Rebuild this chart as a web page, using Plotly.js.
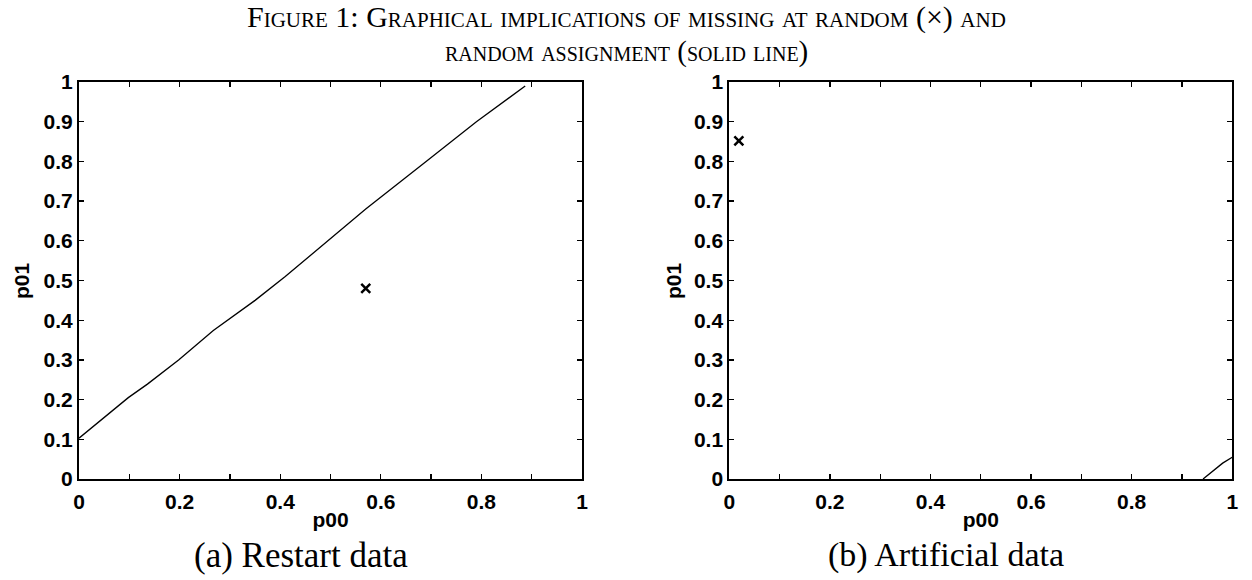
<!DOCTYPE html>
<html>
<head>
<meta charset="utf-8">
<script src="https://cdn.plot.ly/plotly-3.0.1.min.js"></script>
<style>html,body{margin:0;padding:0;background:#fff;} #chart{width:1252px;height:580px;}</style>
</head>
<body>
<div id="chart"></div>
<script>
// Panel (a) Restart data: random assignment line and MAR point
const restartLineP00 = [0.0, 0.05, 0.098, 0.136, 0.198, 0.267, 0.35, 0.41, 0.49, 0.57, 0.69, 0.79, 0.887];
const restartLineP01 = [0.103, 0.155, 0.205, 0.239, 0.30, 0.374, 0.45, 0.51, 0.595, 0.68, 0.80, 0.90, 0.99];
const restartMarP00 = [0.57];
const restartMarP01 = [0.48];

// Panel (b) Artificial data
const artificialLineP00 = [0.942, 0.981, 1.0];
const artificialLineP01 = [0.0, 0.040, 0.055];
const artificialMarP00 = [0.019];
const artificialMarP01 = [0.852];

// Ticks
const tickVals = [0, 0.1, 0.2, 0.3, 0.4, 0.5, 0.6, 0.7, 0.8, 0.9, 1];
const yTickText = ["0", "0.1", "0.2", "0.3", "0.4", "0.5", "0.6", "0.7", "0.8", "0.9", "1"];
const xTickText = ["0", "", "0.2", "", "0.4", "", "0.6", "", "0.8", "", "1"];

const titleLines = ["Figure 1: Graphical implications of missing at random (×) and", "random assignment (solid line)"];
const subCaptions = ["(a) Restart data", "(b) Artificial data"];
const xLabel = "p00";
const yLabel = "p01";

const lineStyle = {color: "#000", width: 1.3};
const markStyle = {symbol: "x-thin-open", size: 9, color: "#000", line: {color: "#000", width: 2.5}};

const traces = [
  {x: restartLineP00, y: restartLineP01, mode: "lines", line: lineStyle, xaxis: "x", yaxis: "y", hoverinfo: "skip"},
  {x: restartMarP00, y: restartMarP01, mode: "markers", marker: markStyle, xaxis: "x", yaxis: "y"},
  {x: artificialLineP00, y: artificialLineP01, mode: "lines", line: lineStyle, xaxis: "x2", yaxis: "y2", hoverinfo: "skip"},
  {x: artificialMarP00, y: artificialMarP01, mode: "markers", marker: markStyle, xaxis: "x2", yaxis: "y2"}
];

const tickFont = {family: "Liberation Sans", size: 21, color: "#000", weight: "bold"};
const axTitleFont = {family: "Liberation Sans", size: 21, color: "#000", weight: "bold"};
function xAx(domain, anchor) {
  return {
    domain: domain, anchor: anchor, range: [0, 1], tickmode: "array", tickvals: tickVals, ticktext: xTickText,
    ticks: "inside", ticklen: 5, tickwidth: 1.3, tickcolor: "#000", ticklabelstandoff: 3,
    showline: true, linecolor: "#000", linewidth: 2, mirror: "ticks",
    showgrid: false, zeroline: false, tickfont: tickFont, automargin: false,
    title: {text: xLabel, font: axTitleFont, standoff: 0}
  };
}
function yAx(domain, anchor) {
  return {
    domain: domain, anchor: anchor, range: [0, 1], tickmode: "array", tickvals: tickVals, ticktext: yTickText,
    ticks: "inside", ticklen: 5, tickwidth: 1.3, tickcolor: "#000",
    showline: true, linecolor: "#000", linewidth: 2, mirror: "ticks",
    showgrid: false, zeroline: false, tickfont: tickFont, automargin: false
  };
}

const serif = "Liberation Serif";
const yDom = [0.1741, 0.8586];
const layout = {
  width: 1252, height: 580,
  margin: {l: 0, r: 0, t: 0, b: 0},
  paper_bgcolor: "#fff", plot_bgcolor: "#fff",
  showlegend: false,
  xaxis: xAx([0.0631, 0.4649], "y"),
  yaxis: yAx(yDom, "x"),
  xaxis2: xAx([0.5825, 0.9842], "y2"),
  yaxis2: yAx(yDom, "x2"),
  annotations: [
    {text: titleLines[0], xref: "paper", yref: "paper", x: 0.5, y: 1 - 17 / 580, xanchor: "center", yanchor: "middle", showarrow: false,
     font: {family: serif, size: 30, color: "#000", variant: "small-caps"}},
    {text: titleLines[1], xref: "paper", yref: "paper", x: 0.5, y: 1 - 51 / 580, xanchor: "center", yanchor: "middle", showarrow: false,
     font: {family: serif, size: 29, color: "#000", variant: "small-caps"}},
    {text: subCaptions[0], xref: "paper", yref: "paper", x: 301 / 1252, y: 1 - 555 / 580, xanchor: "center", yanchor: "middle", showarrow: false,
     font: {family: serif, size: 35, color: "#000"}},
    {text: subCaptions[1], xref: "paper", yref: "paper", x: 946 / 1252, y: 1 - 555 / 580, xanchor: "center", yanchor: "middle", showarrow: false,
     font: {family: serif, size: 34, color: "#000"}},
    {text: yLabel, xref: "paper", yref: "paper", x: 21 / 1252, y: 1 - 281 / 580, xanchor: "center", yanchor: "middle", showarrow: false,
     textangle: -90, font: axTitleFont},
    {text: yLabel, xref: "paper", yref: "paper", x: 673 / 1252, y: 1 - 281 / 580, xanchor: "center", yanchor: "middle", showarrow: false,
     textangle: -90, font: axTitleFont}
  ]
};

Plotly.newPlot("chart", traces, layout, {staticPlot: true, displayModeBar: false});
</script>
</body>
</html>
